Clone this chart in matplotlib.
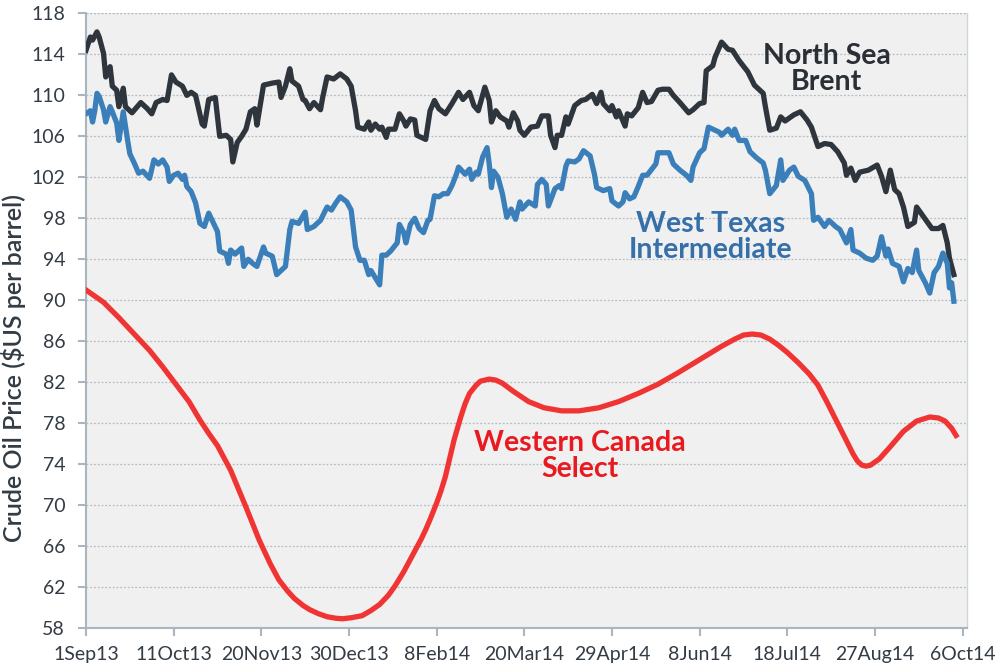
import matplotlib
matplotlib.use("Agg")
import matplotlib.pyplot as plt
import numpy as np
import pandas as pd

# ---------------- data (day offsets from 1 Sep 2013, price $US/bbl) -------------
base_date = "2013-09-01"

brent_day = [0, 2, 3, 5, 6, 8, 9, 11, 12, 14, 15, 17, 18, 21, 25, 28, 30, 32, 35, 37,
             39, 41, 44, 46, 48, 50, 53, 54, 56, 59, 61, 64, 66, 67, 69, 71, 73, 75, 77, 78,
             81, 85, 88, 89, 91, 93, 94, 97, 99, 100, 102, 104, 107, 108, 110, 113, 116, 119, 121, 123,
             124, 127, 129, 130, 132, 134, 135, 137, 138, 141, 143, 145, 146, 148, 150, 151, 155, 157, 159, 161,
             164, 167, 170, 172, 175, 177, 179, 182, 184, 185, 187, 189, 192, 193, 195, 197, 198, 200, 203, 206,
             208, 211, 212, 214, 215, 217, 219, 220, 223, 226, 228, 231, 233, 235, 236, 239, 240, 242, 243, 246,
             247, 249, 252, 254, 256, 258, 261, 263, 266, 268, 271, 273, 275, 277, 280, 282, 283, 286, 287, 290,
             293, 295, 298, 302, 305, 309, 310, 312, 315, 317, 319, 323, 326, 329, 331, 334, 337, 340, 343, 346,
             347, 349, 351, 353, 357, 361, 363, 365, 367, 369, 371, 373, 375, 378, 379, 381, 384, 386, 389, 391,
             393, 394, 396]
brent_price = [114.4, 115.7, 115.4, 116.2, 115.7, 114.1, 111.8, 112.8, 110.9, 110.5, 108.9, 110.7, 108.9, 108.3, 109.3, 108.7, 108.2, 109.3, 109.6, 109.5,
               112.0, 111.3, 110.9, 110.0, 110.3, 110.0, 107.2, 107.0, 109.6, 109.8, 106.0, 106.1, 105.7, 103.5, 105.4, 106.0, 106.7, 108.4, 108.7, 107.1,
               111.0, 111.2, 111.3, 109.8, 110.9, 112.6, 111.4, 110.9, 109.6, 109.5, 108.7, 109.3, 108.6, 109.8, 111.8, 111.6, 112.1, 111.6, 110.9, 108.5,
               106.9, 106.7, 107.4, 106.6, 107.2, 106.7, 106.9, 105.9, 106.7, 106.7, 108.2, 107.5, 107.0, 107.7, 107.6, 106.1, 105.7, 108.5, 109.5, 108.7,
               108.2, 109.2, 110.3, 109.6, 110.3, 109.0, 108.5, 110.8, 109.5, 107.4, 108.5, 107.9, 107.5, 106.9, 108.3, 107.5, 106.6, 106.1, 106.9, 107.0,
               108.0, 108.0, 106.1, 104.9, 106.1, 106.1, 107.9, 107.2, 109.0, 109.5, 109.6, 110.1, 109.2, 110.3, 109.2, 108.5, 109.0, 107.9, 108.5, 107.0,
               108.2, 108.0, 108.8, 110.3, 109.3, 109.4, 110.5, 110.6, 110.6, 110.0, 109.3, 108.8, 108.3, 108.6, 109.2, 109.3, 112.4, 112.9, 113.7, 115.2,
               114.5, 114.4, 113.4, 112.3, 111.0, 110.2, 108.9, 106.6, 106.8, 107.9, 107.5, 108.1, 108.4, 107.6, 106.9, 105.0, 105.3, 105.2, 104.5, 103.4,
               102.2, 102.9, 101.7, 102.5, 102.7, 103.2, 102.1, 100.6, 102.7, 100.8, 100.4, 99.1, 97.2, 97.6, 99.1, 98.5, 97.6, 97.0, 97.0, 97.3,
               95.6, 94.1, 92.5]

wti_day = [0, 2, 3, 4, 5, 6, 8, 9, 11, 12, 14, 15, 17, 19, 20, 22, 24, 26, 29, 31,
           33, 35, 37, 38, 40, 42, 44, 45, 46, 48, 50, 52, 54, 56, 60, 61, 64, 65, 66, 68,
           71, 72, 74, 76, 78, 81, 82, 85, 87, 88, 91, 93, 94, 97, 100, 101, 104, 107, 110, 112,
           114, 116, 119, 121, 123, 125, 127, 129, 130, 132, 134, 135, 137, 139, 142, 143, 145, 146, 148, 150,
           152, 154, 156, 157, 159, 161, 163, 165, 167, 169, 170, 173, 175, 176, 178, 179, 181, 183, 184, 185,
           186, 188, 190, 192, 194, 196, 198, 199, 202, 205, 206, 208, 210, 211, 214, 216, 217, 219, 220, 223,
           225, 227, 230, 232, 233, 236, 239, 240, 243, 245, 246, 248, 250, 252, 254, 256, 260, 261, 264, 266,
           268, 271, 274, 276, 277, 280, 282, 284, 286, 289, 290, 293, 295, 296, 298, 301, 303, 306, 309, 310,
           312, 315, 317, 318, 321, 323, 325, 328, 331, 332, 334, 337, 339, 342, 344, 347, 349, 350, 353, 356,
           359, 361, 363, 365, 366, 368, 371, 373, 375, 377, 379, 380, 383, 385, 387, 389, 391, 393, 394, 395,
           396]
wti_price = [108.2, 108.5, 107.4, 108.5, 110.2, 109.9, 108.6, 107.4, 108.9, 108.4, 107.3, 105.6, 108.4, 105.6, 104.3, 103.4, 102.4, 102.6, 101.9, 103.7,
             103.3, 103.7, 103.0, 101.6, 102.2, 102.4, 101.8, 102.2, 101.1, 100.6, 99.5, 97.5, 97.2, 98.5, 96.7, 94.8, 94.5, 93.6, 94.9, 94.5,
             95.1, 93.3, 94.0, 93.6, 93.3, 95.2, 94.6, 94.3, 92.5, 92.7, 93.3, 96.9, 97.7, 97.5, 98.6, 96.9, 97.2, 97.8, 99.1, 98.8,
             99.5, 100.1, 99.6, 98.8, 95.2, 93.9, 93.9, 92.5, 92.9, 92.2, 91.5, 94.4, 94.4, 94.8, 95.6, 97.4, 96.6, 95.6, 97.4, 98.0,
             97.0, 96.6, 97.8, 97.9, 100.2, 100.1, 100.4, 100.4, 101.2, 102.3, 103.0, 102.3, 102.8, 101.8, 102.5, 102.3, 104.0, 104.9, 103.3, 101.0,
             102.6, 102.0, 100.4, 98.1, 98.9, 97.9, 99.6, 98.9, 99.6, 99.2, 101.3, 101.8, 101.3, 99.2, 100.9, 101.2, 100.9, 103.1, 103.6, 103.5,
             103.8, 104.6, 104.1, 102.3, 101.0, 100.7, 100.9, 99.7, 99.2, 99.6, 100.5, 99.9, 100.1, 101.1, 102.2, 102.2, 103.3, 104.4, 104.4, 104.4,
             103.3, 102.7, 102.2, 101.7, 103.0, 104.4, 104.8, 106.9, 106.7, 106.4, 106.1, 106.7, 106.1, 106.7, 105.6, 105.6, 104.5, 103.9, 103.4, 102.7,
             100.4, 101.2, 103.7, 101.7, 102.7, 103.0, 102.1, 101.7, 100.4, 97.8, 98.1, 97.2, 97.8, 97.2, 96.9, 95.6, 96.9, 94.9, 94.6, 94.1,
             93.9, 94.3, 96.2, 94.3, 95.0, 93.6, 93.3, 91.8, 93.1, 92.7, 94.9, 92.9, 91.7, 90.7, 92.7, 93.3, 94.6, 93.6, 91.2, 91.7,
             89.9]

wcs_day = [0, 8, 15, 22, 29, 35, 41, 47, 52, 56, 60, 66, 73, 79, 84, 88, 92, 95, 99, 102,
           106, 110, 114, 117, 121, 126, 130, 134, 138, 141, 145, 148, 151, 153, 155, 157, 160, 162, 164, 166,
           168, 171, 173, 175, 178, 180, 184, 187, 190, 195, 202, 209, 217, 225, 234, 243, 252, 261, 270, 280,
           290, 296, 300, 304, 308, 312, 316, 320, 325, 330, 334, 338, 342, 346, 350, 352, 354, 356, 358, 362,
           367, 373, 379, 385, 389, 392, 395, 397]
wcs_price = [91.0, 89.8, 88.3, 86.7, 85.1, 83.5, 81.8, 80.1, 78.3, 77.0, 75.8, 73.4, 69.8, 66.6, 64.3, 62.7, 61.6, 60.9, 60.2, 59.8,
             59.4, 59.1, 58.95, 58.9, 59.0, 59.2, 59.7, 60.3, 61.2, 62.1, 63.5, 64.7, 65.9, 66.7, 67.6, 68.6, 70.2, 71.4, 72.8, 74.6,
             76.4, 78.6, 79.9, 80.9, 81.7, 82.1, 82.3, 82.2, 81.9, 81.1, 80.1, 79.5, 79.2, 79.2, 79.5, 80.1, 80.9, 81.8, 82.9, 84.2,
             85.5, 86.2, 86.6, 86.7, 86.6, 86.2, 85.6, 84.9, 83.9, 82.8, 81.7, 80.1, 78.4, 76.7, 75.0, 74.3, 73.9, 73.8, 73.9, 74.5,
             75.7, 77.2, 78.2, 78.6, 78.5, 78.2, 77.5, 76.8]

tick_labels = ["1Sep13", "11Oct13", "20Nov13", "30Dec13", "8Feb14", "20Mar14",
               "29Apr14", "8Jun14", "18Jul14", "27Aug14", "6Oct14"]
y_ticks = list(range(58, 119, 4))

# ---------------- plotting --------------------------------------------------------
plt.rcParams['font.family'] = ['Lato', 'DejaVu Sans']

base = pd.Timestamp(base_date)
def to_dates(days):
    return base + pd.to_timedelta(days, unit="D")

fig = plt.figure(figsize=(10, 6.72), dpi=100)
ax = fig.add_axes([0.086, 0.0655, 0.881, 0.9145])
ax.set_facecolor("#f0f0f0")

c_brent = "#2f353c"
c_wti = "#3b7fba"
c_wcs = "#f03434"

ax.plot(to_dates(brent_day), brent_price, color=c_brent, lw=3.8, solid_joinstyle="round", zorder=3)
ax.plot(to_dates(wti_day), wti_price, color=c_wti, lw=3.8, solid_joinstyle="round", zorder=3)
ax.plot(to_dates(wcs_day), wcs_price, color=c_wcs, lw=3.8, solid_joinstyle="round", zorder=3)

ax.set_ylim(58, 118)
ax.set_xlim(base, base + pd.Timedelta(days=402))
ax.set_yticks(y_ticks)
ax.set_yticklabels([str(v) for v in y_ticks])
tick_dates = [base + pd.Timedelta(days=40 * i) for i in range(len(tick_labels))]
ax.set_xticks(tick_dates)
ax.set_xticklabels(tick_labels)

ax.grid(axis="y", color="#b4bcc4", linestyle=(0, (1.5, 1.5)), linewidth=0.9, zorder=1)
ax.grid(axis="x", visible=False)
ax.axhline(118, color="#b4bcc4", linestyle=(0, (1.5, 1.5)), linewidth=0.9, zorder=1)

for s in ["left", "bottom"]:
    ax.spines[s].set_color("#a9b5c1")
    ax.spines[s].set_linewidth(1.5)
ax.spines["top"].set_visible(False)
ax.spines["right"].set_color("#d0d6dc")
ax.spines["right"].set_linewidth(1.0)

ax.tick_params(axis="both", colors="#a9b5c1", labelcolor="#333b44", labelsize=14,
               length=6, width=1.5, direction="out")
ax.tick_params(axis="x", pad=7)
ax.tick_params(axis="y", pad=9)

ax.set_ylabel("Crude Oil Price ($US per barrel)", fontsize=18, color="#333b44",
              fontweight="semibold")
ax.yaxis.set_label_coords(-0.068, 0.423)

ax.text(base + pd.Timedelta(days=338), 112.6, "North Sea\nBrent", color="#2a2f35",
        fontsize=20.5, fontweight="bold", ha="center", va="center", linespacing=1.0)
ax.text(base + pd.Timedelta(days=285), 96.2, "West Texas\nIntermediate", color="#3570aa",
        fontsize=20.5, fontweight="bold", ha="center", va="center", linespacing=1.0)
ax.text(base + pd.Timedelta(days=225.5), 74.8, "Western Canada\nSelect", color="#e8191f",
        fontsize=20.5, fontweight="bold", ha="center", va="center", linespacing=1.0)

fig.savefig("out.png", dpi=100)
